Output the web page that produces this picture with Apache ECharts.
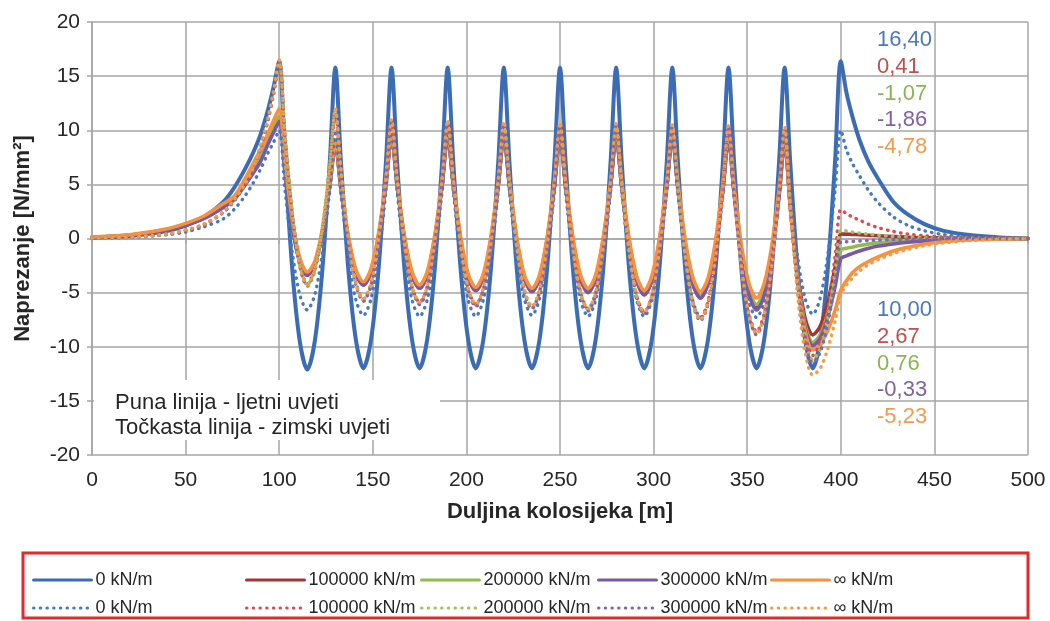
<!DOCTYPE html>
<html>
<head>
<meta charset="utf-8">
<title>Naprezanje</title>
<script src="https://cdn.jsdelivr.net/npm/echarts@6.0.0/dist/echarts.min.js"></script>
<style>
  html, body { margin: 0; padding: 0; background: #fff; }
  #chart { width: 1050px; height: 621px; }
</style>
</head>
<body>
<div id="chart"></div>
<script>
// duljina kolosijeka [m] - zajednicke tocke za sve krivulje
const xKm = [
  0, 20, 40, 50, 60, 70, 76, 82, 86, 90, 94, 97,
  100, 103, 107, 111, 115, 119, 123, 127,
  130, 133, 137, 141, 145, 149, 153, 157,
  160, 163, 167, 171, 175, 179, 183, 187,
  190, 193, 197, 201, 205, 209, 213, 217,
  220, 223, 227, 231, 235, 239, 243, 247,
  250, 253, 257, 261, 265, 269, 273, 277,
  280, 283, 287, 291, 295, 299, 303, 307,
  310, 313, 317, 321, 325, 329, 333, 337,
  340, 343, 347, 351, 355, 359, 363, 367,
  370, 373, 377, 381, 385, 389, 393, 397,
  400, 403, 406, 410, 415, 420, 428, 436, 445, 455, 470, 485, 500
];

// puna linija - ljetni uvjeti
const ljeto0 = [
  0.08, 0.24, 0.7, 1.2, 2.0, 3.35, 4.7, 6.5, 7.9, 9.6, 11.9, 14.0,
  16.4, 7.5, -2.9, -9.5, -12.1, -9.5, -3.0, 7.0,
  15.8, 7.0, -3.0, -9.4, -12.0, -9.4, -3.0, 7.0,
  15.8, 7.0, -3.0, -9.4, -12.0, -9.4, -3.0, 7.0,
  15.8, 7.0, -3.0, -9.4, -12.0, -9.4, -3.0, 7.0,
  15.8, 7.0, -3.0, -9.4, -12.0, -9.4, -3.0, 7.0,
  15.8, 7.0, -3.0, -9.4, -12.0, -9.4, -3.0, 7.0,
  15.8, 7.0, -3.0, -9.4, -12.0, -9.4, -3.0, 7.0,
  15.8, 7.0, -3.0, -9.4, -12.0, -9.4, -3.0, 7.0,
  15.8, 7.0, -3.0, -9.4, -12.0, -9.4, -3.0, 7.0,
  15.8, 7.0, -3.0, -9.4, -12.0, -9.4, -2.9, 7.3,
  16.4, 13.5, 11.4, 9.1, 7.0, 5.5, 3.4, 2.2, 1.3, 0.7, 0.3, 0.1, 0.0
];
const ljeto100 = [
  0.12, 0.3, 0.8, 1.25, 1.9, 2.9, 3.7, 5.1, 6.2, 7.3, 8.9, 10.0,
  11.0, 6.4, 1.2, -2.2, -3.4, -2.4, 0.4, 4.8,
  8.6, 4.5, -0.2, -3.2, -4.3, -3.1, 0.1, 5.0,
  9.4, 4.9, -0.1, -3.4, -4.6, -3.4, -0.1, 4.9,
  9.4, 4.9, -0.3, -3.6, -4.8, -3.6, -0.3, 4.9,
  9.4, 4.8, -0.3, -3.7, -4.9, -3.7, -0.3, 4.8,
  9.4, 4.8, -0.3, -3.7, -4.9, -3.7, -0.3, 4.8,
  9.4, 4.7, -0.5, -3.9, -5.2, -3.9, -0.5, 4.7,
  9.4, 4.6, -0.7, -4.2, -5.5, -4.2, -0.8, 4.5,
  9.2, 4.2, -1.4, -5.1, -6.4, -5.1, -1.5, 4.0,
  8.8, 3.1, -3.2, -7.4, -8.9, -8.1, -5.9, -2.6,
  0.41, 0.4, 0.38, 0.35, 0.3, 0.25, 0.18, 0.12, 0.08, 0.05, 0.02, 0.01, 0.0
];
const ljeto200 = [
  0.13, 0.32, 0.85, 1.3, 2.0, 3.0, 3.8, 5.3, 6.5, 7.7, 9.2, 10.3,
  11.3, 6.6, 1.4, -2.0, -3.3, -2.3, 0.6, 4.9,
  8.8, 4.6, 0.0, -3.1, -4.2, -3.0, 0.2, 5.2,
  9.6, 5.1, 0.0, -3.3, -4.5, -3.3, 0.0, 5.1,
  9.6, 5.0, -0.1, -3.5, -4.7, -3.5, -0.1, 5.0,
  9.6, 5.0, -0.2, -3.6, -4.8, -3.6, -0.2, 5.0,
  9.6, 5.0, -0.2, -3.6, -4.8, -3.6, -0.2, 5.0,
  9.6, 4.9, -0.3, -3.7, -5.0, -3.7, -0.3, 4.9,
  9.6, 4.8, -0.5, -4.0, -5.3, -4.0, -0.6, 4.7,
  9.4, 4.4, -1.1, -4.8, -6.1, -4.8, -1.3, 4.2,
  9.0, 3.0, -3.6, -8.0, -9.6, -8.9, -6.9, -3.8,
  -1.07, -0.9, -0.8, -0.65, -0.5, -0.4, -0.28, -0.2, -0.12, -0.07, -0.03, -0.01, 0.0
];
const ljeto300 = [
  0.12, 0.3, 0.78, 1.2, 1.85, 2.85, 3.6, 5.0, 6.0, 7.1, 8.7, 9.8,
  10.8, 6.3, 1.1, -2.2, -3.4, -2.4, 0.5, 4.9,
  8.8, 4.6, -0.1, -3.2, -4.3, -3.1, 0.1, 5.0,
  9.4, 4.9, -0.1, -3.4, -4.6, -3.4, -0.1, 4.9,
  9.4, 4.9, -0.3, -3.6, -4.8, -3.6, -0.3, 4.9,
  9.4, 4.8, -0.3, -3.7, -4.9, -3.7, -0.3, 4.8,
  9.4, 4.8, -0.4, -3.8, -5.0, -3.8, -0.4, 4.8,
  9.4, 4.7, -0.5, -3.9, -5.2, -3.9, -0.5, 4.7,
  9.4, 4.6, -0.7, -4.2, -5.5, -4.2, -0.8, 4.5,
  9.2, 4.1, -1.5, -5.2, -6.6, -5.3, -1.6, 3.9,
  8.9, 2.9, -3.9, -8.3, -9.9, -9.2, -7.3, -4.4,
  -1.86, -1.6, -1.4, -1.15, -0.9, -0.7, -0.5, -0.35, -0.22, -0.13, -0.06, -0.02, 0.0
];
const ljetoInf = [
  0.15, 0.35, 0.9, 1.4, 2.1, 3.2, 3.9, 5.6, 6.9, 8.2, 9.7, 10.9,
  12.0, 7.2, 1.7, -1.8, -3.1, -2.1, 0.8, 5.1,
  9.0, 4.8, 0.2, -2.9, -4.0, -2.8, 0.4, 5.2,
  9.6, 5.2, 0.1, -3.1, -4.3, -3.1, 0.2, 5.3,
  9.8, 5.2, 0.1, -3.3, -4.5, -3.3, 0.1, 5.2,
  9.8, 5.2, 0.0, -3.4, -4.6, -3.4, 0.0, 5.2,
  9.8, 5.2, 0.0, -3.4, -4.6, -3.4, 0.0, 5.2,
  9.8, 5.1, -0.1, -3.5, -4.8, -3.5, -0.1, 5.1,
  9.8, 5.1, -0.2, -3.6, -4.9, -3.7, -0.3, 5.0,
  9.6, 4.8, -0.7, -4.2, -5.5, -4.2, -0.8, 4.5,
  9.2, 3.0, -4.1, -8.6, -10.3, -9.8, -8.5, -6.6,
  -4.78, -3.9, -3.2, -2.6, -2.1, -1.7, -1.15, -0.8, -0.5, -0.3, -0.12, -0.05, 0.0
];

// tockasta linija - zimski uvjeti
const zima0 = [
  0.03, 0.1, 0.35, 0.6, 1.1, 1.8, 2.7, 4.0, 5.1, 6.4, 7.9, 8.9,
  10.0, 4.7, -1.3, -5.2, -6.6, -5.2, -1.4, 4.5,
  9.7, 4.3, -1.7, -5.7, -7.1, -5.6, -1.7, 4.4,
  9.8, 4.4, -1.8, -5.7, -7.2, -5.7, -1.8, 4.4,
  9.8, 4.4, -1.8, -5.7, -7.2, -5.7, -1.8, 4.4,
  9.8, 4.4, -1.8, -5.6, -7.1, -5.6, -1.8, 4.3,
  9.7, 4.3, -1.8, -5.7, -7.2, -5.7, -1.8, 4.3,
  9.7, 4.3, -1.8, -5.7, -7.2, -5.7, -1.9, 4.3,
  9.6, 4.2, -1.9, -5.8, -7.3, -5.9, -1.9, 4.1,
  9.5, 4.1, -1.9, -5.9, -7.3, -5.9, -2.0, 4.0,
  9.3, 4.1, -1.8, -5.6, -7.0, -5.5, -1.6, 4.6,
  10.0, 8.2, 7.0, 5.8, 4.4, 3.3, 2.0, 1.2, 0.7, 0.35, 0.1, 0.05, 0.0
];
const zima100 = [
  0.04, 0.12, 0.4, 0.75, 1.3, 2.4, 3.5, 5.0, 6.4, 8.3, 10.9, 13.3,
  16.2, 9.7, 2.3, -2.4, -4.2, -2.8, 0.8, 6.5,
  11.5, 6.0, -0.1, -4.1, -5.6, -4.2, -0.4, 5.6,
  10.8, 5.5, -0.6, -4.5, -5.9, -4.5, -0.6, 5.3,
  10.6, 5.3, -0.8, -4.7, -6.1, -4.7, -0.8, 5.3,
  10.6, 5.2, -0.9, -4.8, -6.3, -4.9, -0.9, 5.1,
  10.5, 5.1, -1.1, -5.0, -6.5, -5.0, -1.1, 5.0,
  10.4, 4.9, -1.3, -5.3, -6.8, -5.3, -1.3, 4.8,
  10.3, 4.6, -1.7, -5.9, -7.4, -5.9, -1.8, 4.6,
  10.2, 4.2, -2.6, -7.0, -8.6, -7.0, -2.6, 4.0,
  10.0, 3.3, -4.1, -9.0, -10.8, -9.6, -6.5, -1.6,
  2.67, 2.3, 2.0, 1.7, 1.3, 1.0, 0.65, 0.4, 0.25, 0.12, 0.05, 0.02, 0.0
];
const zima200 = [
  0.04, 0.12, 0.4, 0.75, 1.3, 2.4, 3.5, 5.0, 6.4, 8.4, 11.0, 13.4,
  16.3, 9.7, 2.3, -2.5, -4.3, -2.9, 0.9, 6.7,
  11.9, 6.3, -0.1, -4.2, -5.7, -4.3, -0.4, 5.6,
  10.9, 5.5, -0.6, -4.5, -6.0, -4.6, -0.6, 5.4,
  10.8, 5.4, -0.8, -4.7, -6.2, -4.7, -0.8, 5.3,
  10.7, 5.2, -0.9, -4.9, -6.4, -4.9, -1.0, 5.2,
  10.6, 5.1, -1.1, -5.1, -6.6, -5.1, -1.1, 5.0,
  10.5, 4.9, -1.3, -5.4, -6.9, -5.4, -1.4, 4.9,
  10.4, 4.7, -1.8, -6.0, -7.5, -6.0, -1.8, 4.6,
  10.3, 4.2, -2.7, -7.2, -8.8, -7.2, -2.7, 4.1,
  10.1, 3.3, -4.4, -9.4, -11.2, -10.2, -7.4, -3.1,
  0.76, 0.7, 0.6, 0.5, 0.4, 0.3, 0.2, 0.13, 0.08, 0.04, 0.02, 0.01, 0.0
];
const zima300 = [
  0.04, 0.12, 0.4, 0.75, 1.3, 2.4, 3.5, 5.0, 6.4, 8.4, 11.0, 13.5,
  16.4, 9.7, 2.3, -2.6, -4.4, -3.0, 0.7, 6.5,
  11.6, 6.0, -0.2, -4.3, -5.8, -4.4, -0.5, 5.5,
  10.8, 5.4, -0.7, -4.6, -6.1, -4.7, -0.7, 5.3,
  10.7, 5.3, -0.9, -4.8, -6.3, -4.8, -0.9, 5.2,
  10.6, 5.1, -1.0, -5.0, -6.5, -5.0, -1.1, 5.0,
  10.5, 5.0, -1.2, -5.2, -6.7, -5.2, -1.2, 4.9,
  10.4, 4.8, -1.4, -5.5, -7.0, -5.5, -1.5, 4.7,
  10.3, 4.6, -1.9, -6.1, -7.6, -6.1, -1.9, 4.5,
  10.2, 4.1, -2.8, -7.3, -8.9, -7.3, -2.9, 3.9,
  10.0, 3.1, -4.6, -9.7, -11.5, -10.5, -7.9, -3.9,
  -0.33, -0.3, -0.27, -0.23, -0.18, -0.14, -0.1, -0.07, -0.04, -0.02, -0.01, 0.0, 0.0
];
const zimaInf = [
  0.05, 0.13, 0.42, 0.8, 1.35, 2.45, 3.6, 5.1, 6.5, 8.5, 11.1, 13.6,
  16.5, 9.8, 2.4, -2.5, -4.3, -2.9, 0.9, 6.8,
  12.0, 6.4, 0.0, -4.1, -5.6, -4.2, -0.3, 5.7,
  11.0, 5.6, -0.5, -4.4, -5.9, -4.5, -0.5, 5.5,
  10.9, 5.5, -0.7, -4.6, -6.1, -4.6, -0.7, 5.4,
  10.8, 5.3, -0.8, -4.8, -6.3, -4.8, -0.8, 5.3,
  10.7, 5.2, -1.0, -5.0, -6.5, -5.0, -1.0, 5.1,
  10.6, 5.0, -1.2, -5.3, -6.8, -5.3, -1.3, 4.9,
  10.5, 4.7, -1.7, -6.0, -7.5, -6.0, -1.8, 4.7,
  10.4, 4.3, -2.7, -7.1, -8.8, -7.2, -2.7, 4.2,
  10.3, 3.0, -5.3, -10.6, -12.6, -12.0, -10.2, -7.6,
  -5.23, -4.3, -3.7, -3.0, -2.4, -1.95, -1.4, -1.0, -0.65, -0.4, -0.18, -0.07, 0.0
];

// oznake krutosti
const stiffness = ['0 kN/m', '100000 kN/m', '200000 kN/m', '300000 kN/m', '\u221e kN/m'];
// vrijednosti upisane desno od x = 400 m
const summerValues = ['16,40', '0,41', '-1,07', '-1,86', '-4,78'];
const winterValues = ['10,00', '2,67', '0,76', '-0,33', '-5,23'];

const FONT = "'Liberation Sans', Arial, sans-serif";
const solidColors = ['#3c6db4', '#a8323a', '#8fbb4f', '#7a58a4', '#f7913d'];
const dotColors = ['#4479c4', '#e4474d', '#9cc65c', '#8466b0', '#f89a44'];
const textColors = ['#4a78c2', '#c0504d', '#8cb653', '#7f63a3', '#f59a4c'];
const summer = [ljeto0, ljeto100, ljeto200, ljeto300, ljetoInf];
const winter = [zima0, zima100, zima200, zima300, zimaInf];

const names = {};
const series = [];
summer.forEach((vals, i) => {
  const n = 'ljeto ' + i;
  names[n] = stiffness[i];
  series.push({
    name: n,
    type: 'line',
    data: xKm.map((x, k) => [x, vals[k]]),
    symbol: 'none',
    smooth: 0.3,
    lineStyle: { color: solidColors[i], width: i === 0 ? 4 : 3.6, cap: 'round', join: 'round' },
    itemStyle: { color: solidColors[i] },
    emphasis: { disabled: true }
  });
});
winter.forEach((vals, i) => {
  const n = 'zima ' + i;
  names[n] = stiffness[i];
  series.push({
    name: n,
    type: 'line',
    data: xKm.map((x, k) => [x, vals[k]]),
    symbol: 'none',
    smooth: 0.3,
    lineStyle: { color: dotColors[i], width: 3.4, type: [0.5, 6.2], cap: 'round' },
    itemStyle: { color: dotColors[i] },
    emphasis: { disabled: true }
  });
});

// legenda - svaka stavka posebno (dva reda po pet)
const legendLeft = [27, 240, 415, 592, 765];
const legends = [];
['ljeto ', 'zima '].forEach((prefix, row) => {
  legendLeft.forEach((left, i) => {
    legends.push({
      left: left,
      top: 565 + row * 28,
      itemWidth: 58,
      itemHeight: 14,
      selectedMode: false,
      data: [prefix + i],
      formatter: (n) => names[n],
      itemStyle: { color: 'rgba(0,0,0,0)', borderWidth: 0 },
      lineStyle: { width: 3 },
      textStyle: { fontFamily: FONT, fontSize: 18, color: '#262626', lineHeight: 20, padding: [0, 0, 0, -1] }
    });
  });
});

const graphics = [
  { type: 'rect', z: 5, shape: { x: 94, y: 380, width: 346, height: 60 }, style: { fill: '#ffffff' } },
  { type: 'text', z: 6, style: { text: 'Puna linija - ljetni uvjeti', x: 115, y: 403, verticalAlign: 'middle', fill: '#262626', fontSize: 22, fontFamily: FONT } },
  { type: 'text', z: 6, style: { text: 'Točkasta linija - zimski uvjeti', x: 115, y: 428, verticalAlign: 'middle', fill: '#262626', fontSize: 22, fontFamily: FONT } },
  { type: 'rect', z: 6, shape: { x: 23, y: 553, width: 1005, height: 65 }, style: { fill: 'none', stroke: '#e3292b', lineWidth: 3 } }
];
summerValues.forEach((t, i) => {
  graphics.push({ type: 'text', z: 6, style: { text: t, x: 877, y: 40 + i * 26.8, verticalAlign: 'middle', fill: textColors[i], fontSize: 22, fontFamily: FONT } });
});
winterValues.forEach((t, i) => {
  graphics.push({ type: 'text', z: 6, style: { text: t, x: 877, y: 310 + i * 26.8, verticalAlign: 'middle', fill: textColors[i], fontSize: 22, fontFamily: FONT } });
});

const gridLine = { color: '#a6a6a6', width: 1.5 };

const option = {
  animation: false,
  backgroundColor: '#ffffff',
  grid: { left: 92, right: 22, top: 22, bottom: 166, containLabel: false, outerBoundsMode: 'none' },
  xAxis: {
    type: 'value',
    min: 0,
    max: 500,
    interval: 50,
    name: 'Duljina kolosijeka [m]',
    nameLocation: 'middle',
    nameGap: 46,
    nameTextStyle: { fontFamily: FONT, fontSize: 22, fontWeight: 'bold', color: '#262626' },
    axisLine: { lineStyle: gridLine },
    axisTick: { show: true, length: 5, lineStyle: gridLine },
    axisLabel: { fontFamily: FONT, fontSize: 21, color: '#262626', margin: 15 },
    splitLine: { show: true, lineStyle: gridLine }
  },
  yAxis: {
    type: 'value',
    min: -20,
    max: 20,
    interval: 5,
    name: 'Naprezanje [N/mm²]',
    nameLocation: 'middle',
    nameGap: 58,
    nameTextStyle: { fontFamily: FONT, fontSize: 22, fontWeight: 'bold', color: '#262626' },
    axisLine: { show: true, lineStyle: gridLine },
    axisTick: { show: true, length: 5, lineStyle: gridLine },
    axisLabel: { fontFamily: FONT, fontSize: 21, color: '#262626', margin: 12 },
    splitLine: { show: true, lineStyle: gridLine }
  },
  legend: legends,
  graphic: graphics,
  series: series
};

const chart = echarts.init(document.getElementById('chart'), null, { renderer: 'canvas' });
chart.setOption(option);
</script>
</body>
</html>
